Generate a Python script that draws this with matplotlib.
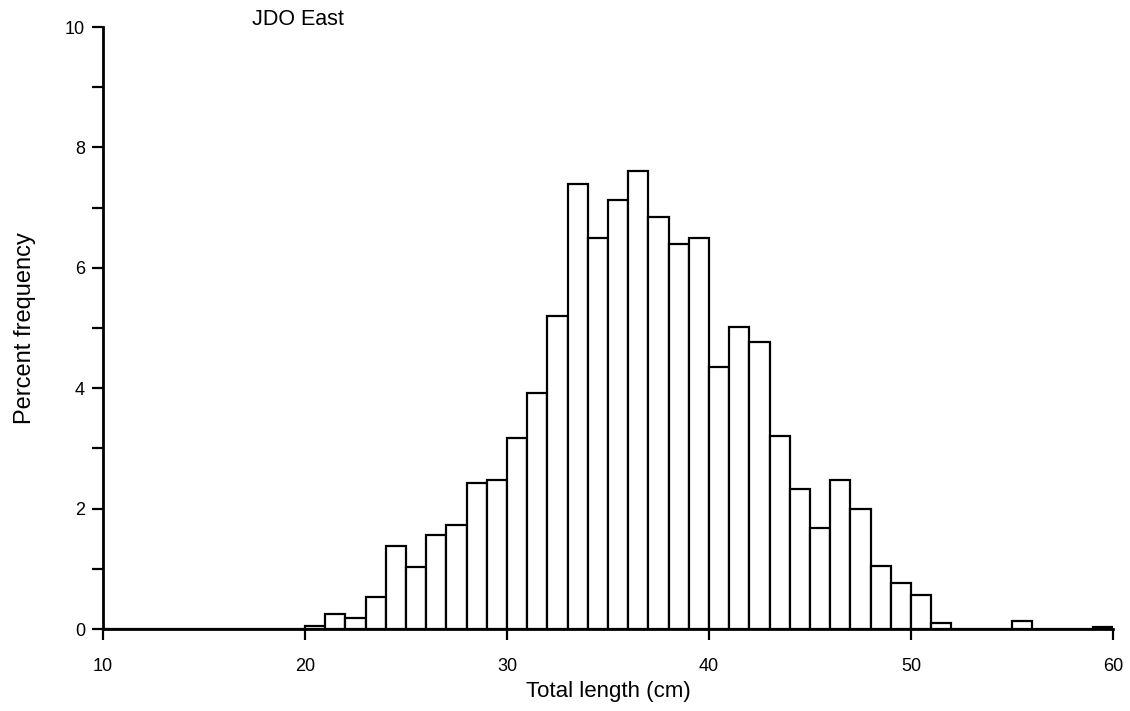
import numpy as np
import matplotlib.pyplot as plt

plt.rcParams['font.family'] = ['Liberation Sans', 'DejaVu Sans']

# 1 cm length classes, left edge of each bin
bin_left = np.arange(10, 60, 1)
# percent frequency per bin
pct = [0, 0, 0, 0, 0, 0, 0, 0, 0, 0,
       0.05, 0.25, 0.18, 0.54, 1.38, 1.03, 1.57, 1.72, 2.43, 2.47,
       3.18, 3.92, 5.20, 7.40, 6.50, 7.13, 7.60, 6.85, 6.40, 6.50,
       4.35, 5.02, 4.77, 3.20, 2.32, 1.67, 2.48, 2.00, 1.04, 0.76,
       0.57, 0.10, 0, 0, 0, 0.13, 0, 0, 0, 0.03]
x_ticks = [10, 20, 30, 40, 50, 60]
y_ticks = [0, 2, 4, 6, 8, 10]

fig = plt.figure(figsize=(11.3, 7.11), dpi=100)
ax = fig.add_axes([0.0912, 0.1153, 0.8938, 0.8467])

ax.bar(bin_left, pct, width=1.0, align='edge', facecolor='white',
       edgecolor='black', linewidth=1.6)

ax.set_xlim(10, 60)
ax.set_ylim(0, 10)
ax.set_xticks(x_ticks)
ax.set_yticks(y_ticks)
ax.set_yticks([1, 3, 5, 7, 9], minor=True)
ax.tick_params(axis='both', which='both', direction='out', length=8,
               width=1.6, labelsize=13)
ax.tick_params(axis='x', pad=13)
ax.tick_params(axis='y', pad=5)

for s in ['top', 'right']:
    ax.spines[s].set_visible(False)
for s in ['left', 'bottom']:
    ax.spines[s].set_linewidth(2)

# axis titles placed by hand to match the scan
fig.text(0.538, 0.028, 'Total length (cm)', fontsize=16, ha='center', va='center')
fig.text(0.022, 0.539, 'Percent frequency', fontsize=17, rotation=90,
         ha='center', va='center')
fig.text(0.223, 0.972, 'JDO East', fontsize=15.5, va='center')

fig.savefig('out.png', dpi=100)
